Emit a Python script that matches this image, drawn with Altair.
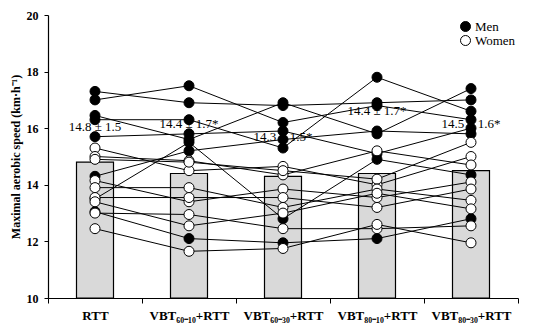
import altair as alt
import pandas as pd

categories = ["RTT", "VBT₆₀₋₁₀+RTT", "VBT₆₀₋₃₀+RTT", "VBT₈₀₋₁₀+RTT", "VBT₈₀₋₃₀+RTT"]
means = [14.8, 14.4, 14.3, 14.4, 14.5]
mean_labels = ["14.8 ± 1.5", "14.4 ± 1.7*", "14.3 ± 1.5*", "14.4 ± 1.7*", "14.5 ± 1.6*"]
label_pos = [16.05, 16.15, 15.7, 16.6, 16.15]

men = [
    [17.3, 16.9, 16.8, 16.9, 17.0],
    [17.0, 17.5, 16.2, 16.8, 16.3],
    [16.45, 15.6, 16.9, 15.8, 17.4],
    [16.3, 16.3, 15.3, 17.8, 16.6],
    [15.7, 15.8, 15.9, 15.1, 16.0],
    [14.3, 15.2, 15.6, 15.9, 15.8],
    [13.5, 15.5, 12.8, 14.9, 14.35],
    [13.05, 12.1, 11.95, 12.1, 12.8],
]
women = [
    [15.3, 14.5, 14.65, 14.0, 15.0],
    [15.0, 14.85, 14.35, 15.2, 14.7],
    [14.9, 14.8, 14.5, 14.2, 15.5],
    [14.15, 13.4, 13.85, 13.55, 14.1],
    [13.9, 13.9, 13.2, 13.85, 13.45],
    [13.55, 13.55, 13.55, 13.2, 13.85],
    [13.4, 12.55, 13.0, 13.7, 13.15],
    [13.0, 12.95, 12.45, 12.45, 12.55],
    [12.45, 11.65, 11.75, 12.6, 11.95],
]

rows = []
for i, vals in enumerate(men):
    for c, v in zip(categories, vals):
        rows.append({"subject": f"m{i}", "sex": "Men", "cond": c, "speed": v})
for i, vals in enumerate(women):
    for c, v in zip(categories, vals):
        rows.append({"subject": f"w{i}", "sex": "Women", "cond": c, "speed": v})
df = pd.DataFrame(rows)

bars_df = pd.DataFrame({"cond": categories, "mean": means, "label": mean_labels,
                        "ly": label_pos, "base": [10] * len(categories)})

FONT = "Liberation Serif"
x_enc = alt.X("cond:N", sort=categories, title=None,
              axis=alt.Axis(labelAngle=0, tickBand="extent", labelFontWeight="bold",
                            labelFontSize=13, labelFont=FONT, tickSize=5, labelPadding=6,
                            labelOverlap=False, labelBound=False,
                            domainColor="black", tickColor="black", labelColor="black"),
              scale=alt.Scale(paddingInner=0, paddingOuter=0))
y_scale = alt.Scale(domain=[10, 20])

base = alt.Chart(bars_df)
bars = base.mark_bar(size=37, color="#d9d9d9", stroke="black", strokeWidth=1.2).encode(
    x=x_enc,
    y=alt.Y("mean:Q", scale=y_scale, title="Maximal aerobic speed (km·h⁻¹)",
            axis=alt.Axis(values=[10, 12, 14, 16, 18, 20], grid=False, labelFontWeight="bold",
                          labelFontSize=12, labelFont=FONT, titleFont=FONT, titleFontSize=12,
                          titleFontWeight="bold", tickSize=4, labelPadding=6, titlePadding=4,
                          domainColor="black", tickColor="black", labelColor="black",
                          titleColor="black")),
    y2="base:Q",
)

lines = alt.Chart(df).mark_line(color="black", strokeWidth=1).encode(
    x=alt.X("cond:N", sort=categories),
    y=alt.Y("speed:Q", scale=y_scale),
    detail="subject:N",
)

points = alt.Chart(df).mark_point(filled=True, size=100, stroke="black", strokeWidth=1, opacity=1).encode(
    x=alt.X("cond:N", sort=categories),
    y=alt.Y("speed:Q", scale=y_scale),
    fill=alt.Fill("sex:N", scale=alt.Scale(domain=["Men", "Women"], range=["black", "white"]),
                  legend=alt.Legend(title=None, orient="none", legendX=411, legendY=5,
                                    labelFont=FONT, labelFontSize=13, labelColor="black",
                                    symbolStrokeColor="black", symbolSize=100, symbolStrokeWidth=1,
                                    rowPadding=-7, labelOffset=3)),
)

texts = base.mark_text(font=FONT, fontSize=13, color="black").encode(
    x=alt.X("cond:N", sort=categories),
    y=alt.Y("ly:Q", scale=y_scale),
    text="label:N",
)

chart = alt.layer(bars, lines, points, texts).properties(
    width=470, height=283,
    autosize=alt.AutoSizeParams(type="none"),
    padding={"left": 40, "top": 7, "right": 24, "bottom": 26},
).configure_view(stroke=None).configure_axis(domainWidth=1.2)

chart.save("out.html", embed_options={"renderer": "svg", "actions": False})
